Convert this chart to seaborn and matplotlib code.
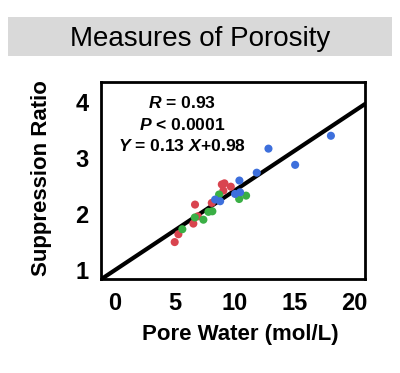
import numpy as np
import pandas as pd
import seaborn as sns
import matplotlib.pyplot as plt
from matplotlib.patches import Rectangle

# data
red_x = [4.99, 5.30, 6.55, 6.92, 6.69, 8.09, 9.06, 8.93, 9.15, 9.68]
red_y = [1.50, 1.64, 1.83, 1.96, 2.17, 2.20, 2.42, 2.53, 2.55, 2.49]
green_x = [5.63, 6.67, 7.39, 7.81, 8.14, 8.70, 10.38, 10.96]
green_y = [1.73, 1.94, 1.90, 2.04, 2.05, 2.35, 2.27, 2.33]
blue_x = [8.37, 8.79, 10.04, 10.46, 10.40, 11.85, 12.83, 15.06, 18.05]
blue_y = [2.26, 2.23, 2.36, 2.39, 2.60, 2.74, 3.17, 2.88, 3.40]

fit_slope = 0.142
fit_intercept = 1.0

stats_lines = ["$R$ = 0.93", "$P$ < 0.0001", "$Y$ = 0.13 $X$+0.98"]
x_ticks = [0, 5, 10, 15, 20]
y_ticks = [1, 2, 3, 4]

df = pd.DataFrame({
    "x": red_x + green_x + blue_x,
    "y": red_y + green_y + blue_y,
    "grp": ["r"] * len(red_x) + ["g"] * len(green_x) + ["b"] * len(blue_x),
})

sns.set_style("white")
plt.rcParams["font.family"] = ["Liberation Sans", "DejaVu Sans"]
plt.rcParams["text.color"] = "black"
plt.rcParams["xtick.color"] = "black"
plt.rcParams["ytick.color"] = "black"
plt.rcParams["axes.labelcolor"] = "black"
plt.rcParams["mathtext.fontset"] = "custom"
plt.rcParams["mathtext.it"] = "Liberation Sans:bold:italic"
plt.rcParams["mathtext.rm"] = "Liberation Sans:bold"

fig = plt.figure(figsize=(4.0, 3.73), dpi=100)
ax = fig.add_axes([0.2525, 0.252, 0.66, 0.528])

sns.scatterplot(data=df, x="x", y="y", hue="grp",
                palette={"r": "#d9444f", "g": "#3aaf45", "b": "#3d6fdc"},
                s=34, linewidth=0, legend=False, ax=ax, zorder=3)

ax.axline((0, fit_intercept), slope=fit_slope, color="black", lw=3, zorder=2)

ax.set_xlim(-1.17, 20.9)
ax.set_ylim(0.84, 4.36)
ax.set_xticks(x_ticks)
ax.set_yticks(y_ticks)
ax.tick_params(length=0, labelsize=17, pad=9)
for lab in ax.get_xticklabels() + ax.get_yticklabels():
    lab.set_fontweight("bold")
for sp in ax.spines.values():
    sp.set_linewidth(2)
    sp.set_color("black")

ax.set_xlabel("Pore Water (mol/L)", fontsize=16, fontweight="bold", va="center")
ax.set_ylabel("Suppression Ratio", fontsize=16, fontweight="bold", va="center")
ax.xaxis.set_label_coords((240 - 101) / 264, (279 - 335) / 197)
ax.yaxis.set_label_coords((42 - 101) / 264, (279 - 178) / 197)

# stats text
for i, t in enumerate(stats_lines):
    fig.text(182 / 400, 1 - (103 + i * 21.5) / 373, t, ha="center", va="center",
             fontsize=12.6, fontweight="bold")

# title box
fig.patches.append(Rectangle((8 / 400, 1 - 56 / 373), 384 / 400, 39 / 373,
                             transform=fig.transFigure, facecolor="#d9d9d9",
                             edgecolor="none", zorder=0))
fig.text(0.5, 1 - 46.5 / 373, "Measures of Porosity", ha="center", va="baseline",
         fontsize=20)

fig.savefig("out.png", dpi=100)
